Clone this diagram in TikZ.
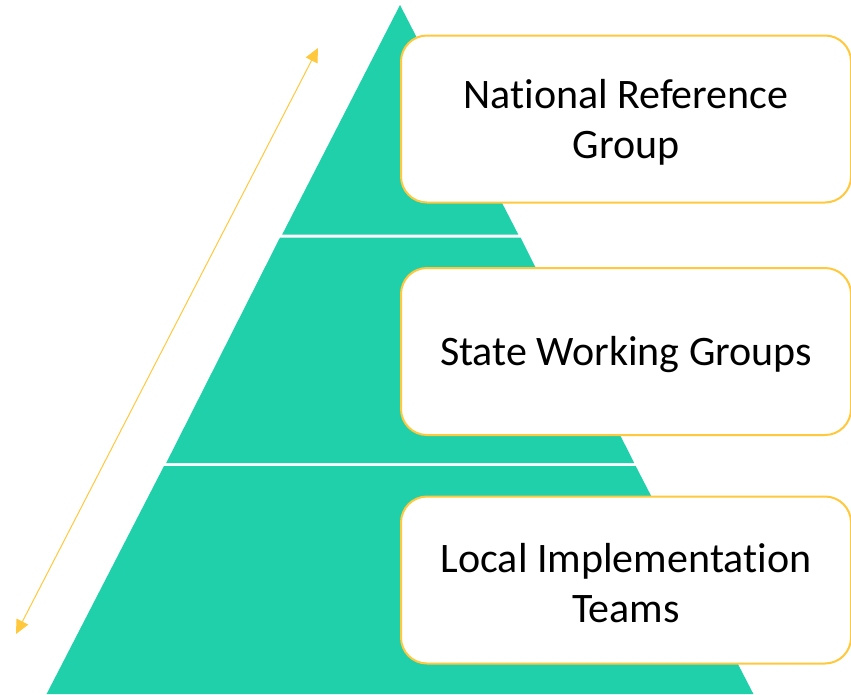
\documentclass[tikz,border=0pt]{standalone}
\usepackage{fontspec}
\setmainfont{Carlito}[Ligatures=NoCommon]
\usetikzlibrary{arrows.meta}
\definecolor{teal}{HTML}{20D0AA}
\definecolor{gold}{HTML}{FFC83D}
\begin{document}
\begin{tikzpicture}[x=1pt,y=-1pt,
  tier/.style={fill=teal,draw=none},
  label box/.style={draw=gold,line width=2pt,fill=white,rounded corners=26pt,minimum width=450pt,minimum height=167pt,align=center,font=\fontsize{42}{50}\selectfont,inner sep=0pt},
  axis/.style={draw=gold,line width=1pt,{Triangle[length=14pt,width=13pt]}-{Triangle[length=14pt,width=13pt]}}]
\useasboundingbox (0,0) rectangle (851,694);
% pyramid tiers
\fill[tier] (400,5) -- (282.2,234.5) -- (518.3,234.5) -- cycle;
\fill[tier] (280.0,237.5) -- (520.5,237.5) -- (634.2,463) -- (166.2,463) -- cycle;
\fill[tier] (164.0,466) -- (635.7,466) -- (753.4,694) -- (46.6,694) -- cycle;
% boxes
\node[label box] (nrg) at (626,119) {};
\node[label box] (swg) at (626,351.5) {};
\node[label box] (lit) at (626,580) {};
\node[align=center,font=\fontsize{42}{50}\selectfont,inner sep=0pt] (nrgt) at ([yshift=-3pt]nrg.center) {National Reference\\Group};
\node[align=center,font=\fontsize{42}{50}\selectfont,inner sep=0pt] (swgt) at ([yshift=-3pt]swg.center) {State Working Groups};
\node[align=center,font=\fontsize{42}{50}\selectfont,inner sep=0pt] (litt) at ([yshift=-3pt]lit.center) {Local Implementation\\Teams};
% arrow
\coordinate (atop) at (318,48);
\coordinate (abot) at (16,634);
\draw[axis] (abot) -- (atop);
\end{tikzpicture}
\end{document}
